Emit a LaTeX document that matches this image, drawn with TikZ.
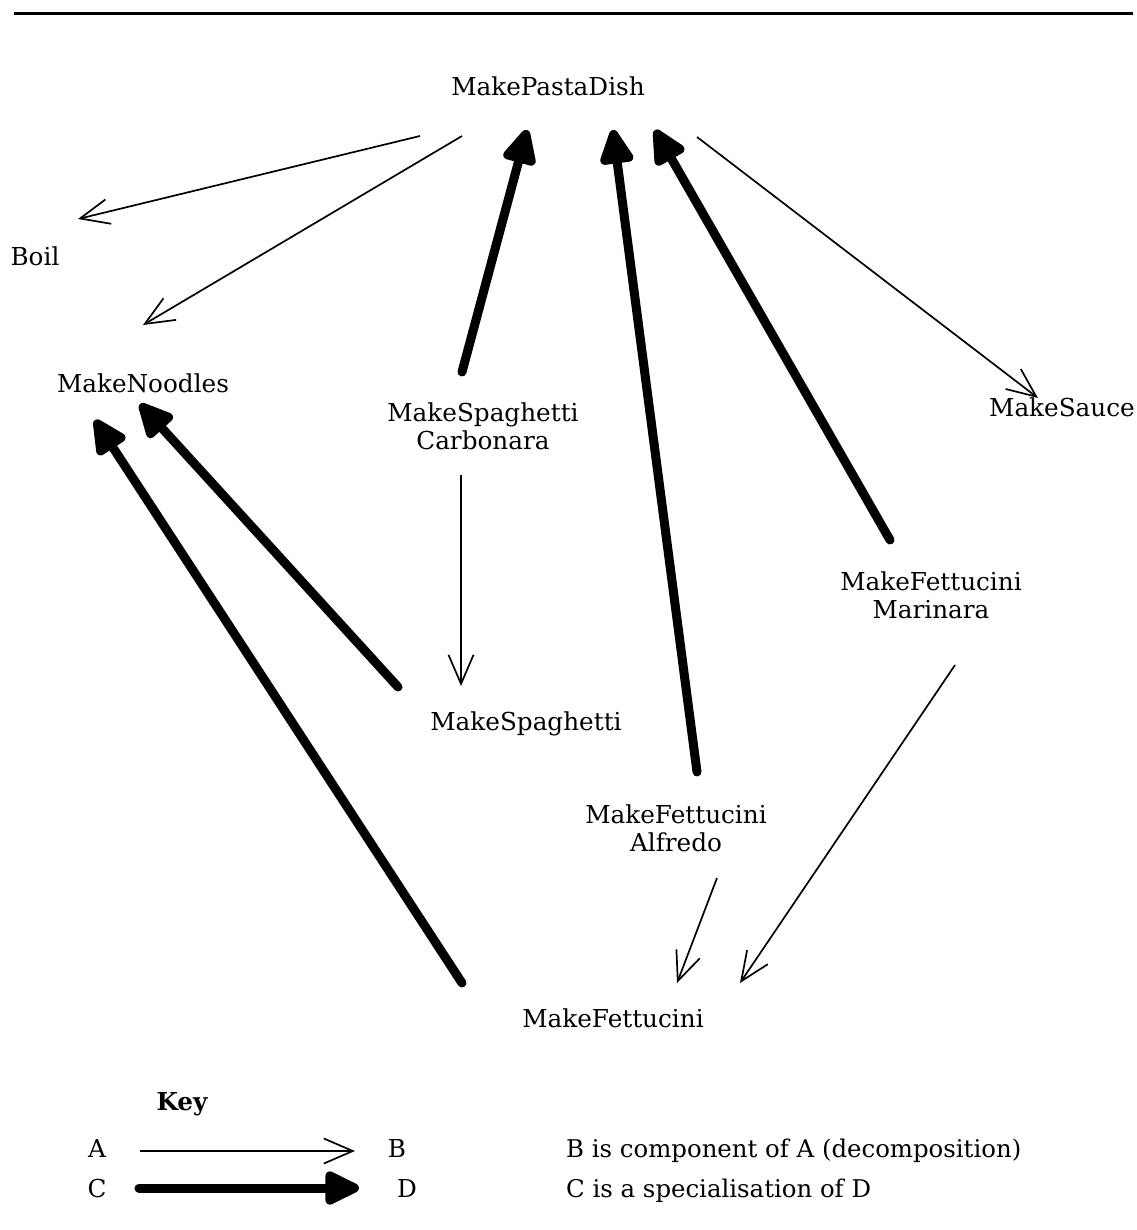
\documentclass[tikz,border=0pt]{standalone}
\usepackage{fontspec}
\setmainfont{DejaVu Serif}
\usetikzlibrary{arrows.meta,calc}
\begin{document}
\begin{tikzpicture}[x=1pt,y=-1pt,
  lbl/.style={inner sep=0pt, anchor=base, font=\fontsize{24.7}{28}\selectfont, align=center},
  keytext/.style={inner sep=0pt, anchor=base west, font=\fontsize{24.4}{28}\selectfont},
  comp/.style={line width=1.7pt, -{Straight Barb[length=29pt,width=25pt]}},
  spec/.style={line width=9pt, line cap=round, -{Triangle[length=40pt,width=36pt,round]}},
]
\useasboundingbox (0,0) rectangle (1136,1230);

% heading rule
\coordinate (ruleL) at (14,14);
\coordinate (ruleR) at (1133,14);
\draw[line width=3pt] (ruleL) -- (ruleR);

% tasks (two-line nodes are placed by the baseline of their last line)
\node[lbl] (pasta)   at (548,96)  {MakePastaDish};
\node[lbl] (boil)    at (35,266)  {Boil};
\node[lbl] (noodles) at (143,392) {MakeNoodles};
\node[lbl] (carb)    at (483,449) {MakeSpaghetti\\Carbonara};
\node[lbl] (sauce)   at (1062,416){MakeSauce};
\node[lbl] (mari)    at (931,618) {MakeFettucini\\Marinara};
\node[lbl] (spag)    at (526,730) {MakeSpaghetti};
\node[lbl] (alf)     at (676,851) {MakeFettucini\\Alfredo};
\node[lbl] (fett)    at (613,1027){MakeFettucini};

% decomposition links
\draw[comp] ($(pasta.base)+(-128,40)$) -- ($(boil.base)+(43,-47)$);
\draw[comp] ($(pasta.base)+(-86,40)$)  -- ($(noodles.base)+(0,-67)$);
\draw[comp] ($(pasta.base)+(149,41)$)  -- ($(sauce.base)+(-24,-18)$);
\draw[comp] ($(carb.base)+(-22,26)$)   -- ($(spag.base)+(-65,-44)$);
\draw[comp] ($(alf.base)+(41,27)$)     -- ($(fett.base)+(64,-44)$);
\draw[comp] ($(mari.base)+(24,47)$)    -- ($(fett.base)+(127,-44)$);

% specialisation links
\draw[spec] ($(carb.base)+(-21,-77)$)  -- ($(pasta.base)+(-21,34)$);
\draw[spec] ($(alf.base)+(21,-79)$)    -- ($(pasta.base)+(65,34)$);
\draw[spec] ($(mari.base)+(-41,-78)$)  -- ($(pasta.base)+(107,34)$);
\draw[spec] ($(spag.base)+(-128,-43)$) -- ($(noodles.base)+(-3,12)$);
\draw[spec] ($(fett.base)+(-151,-44)$) -- ($(noodles.base)+(-48,28)$);

% key
\node[lbl, font=\fontsize{24.7}{28}\selectfont\bfseries] (key) at (182,1110) {Key};
\node[lbl] (kA) at (97,1157)  {A};
\node[lbl] (kB) at (397,1157) {B};
\node[lbl] (kC) at (97,1197)  {C};
\node[lbl] (kD) at (407,1197) {D};
\draw[comp] ($(kA.base)+(43,-6)$) -- ($(kB.base)+(-42,-6)$);
\draw[spec] ($(kC.base)+(42,-9)$) -- ($(kD.base)+(-48,-9)$);
\node[keytext] (kt1) at (566,1157) {B is component of A (decomposition)};
\node[keytext] (kt2) at (566,1197) {C is a specialisation of D};
\end{tikzpicture}
\end{document}
